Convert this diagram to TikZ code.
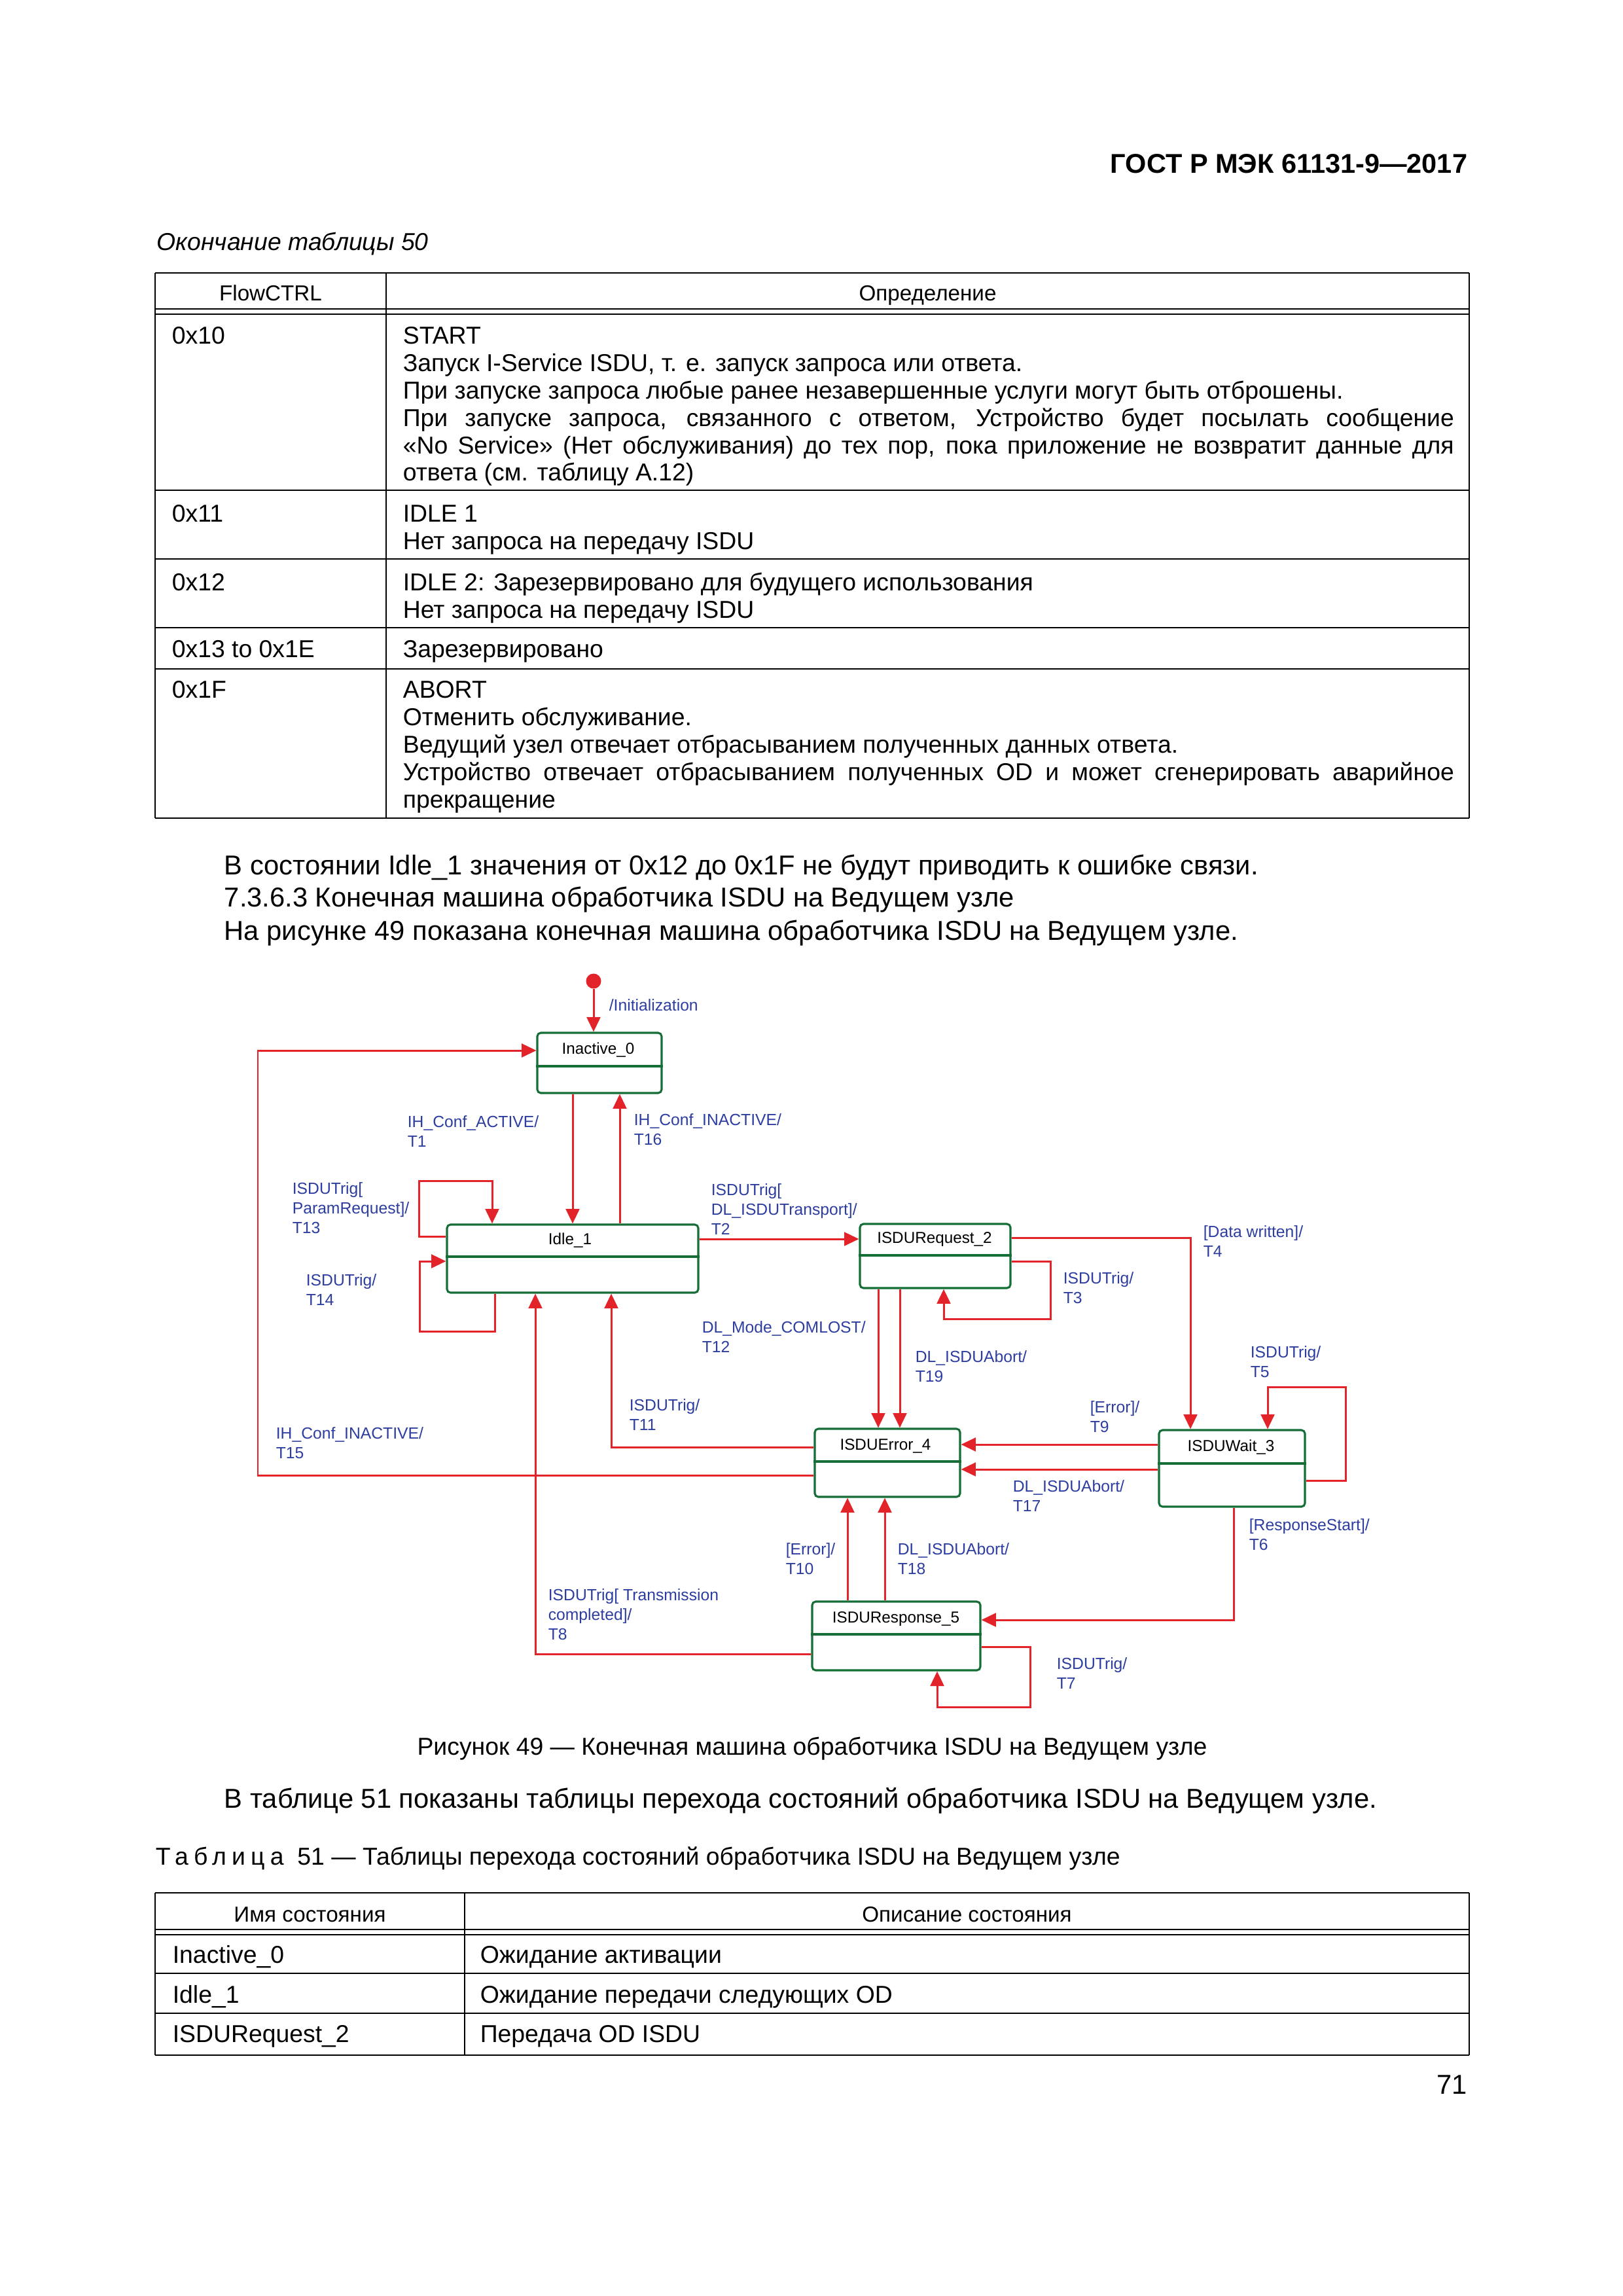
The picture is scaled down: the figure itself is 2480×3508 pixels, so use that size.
\documentclass[tikz,border=0pt]{standalone}
\usepackage{fontspec}
\setmainfont{Liberation Sans}
\newfontfamily\spacedfont[LetterSpace=22]{Liberation Sans}
\usetikzlibrary{arrows.meta}
\definecolor{arrred}{RGB}{226,35,42}
\definecolor{stgreen}{RGB}{22,110,55}
\definecolor{lblblue}{RGB}{45,62,160}
\newcommand\hdrfs{\fontsize{10pt}{12pt}\selectfont\bfseries}
\newcommand\bodyfs{\fontsize{10.05pt}{12pt}\selectfont}
\newcommand\tabfs{\fontsize{9pt}{10pt}\selectfont}
\newcommand\tabhfs{\fontsize{8pt}{9pt}\selectfont}
\newcommand\lblfs{\fontsize{5.95pt}{7.2pt}\selectfont}
\newcommand\stfs{\fontsize{5.85pt}{7pt}\selectfont}
\newcommand\jline[1]{\makebox[386.9pt][s]{#1}}
\tikzset{
  th/.style={line width=0.65pt},
  tv/.style={line width=0.4pt},
  tdbl/.style={line width=0.45pt},
  txt/.style={anchor=west,inner sep=0pt,text height=6.5pt,text depth=0pt},
  ctxt/.style={anchor=center,inner sep=0pt,text height=6.5pt,text depth=0pt},
  htxt/.style={anchor=center,inner sep=0pt,text height=5.8pt,text depth=0pt,font=\tabhfs},
  btxt/.style={txt,font=\bodyfs,text height=7.2pt},
  tabtxt/.style={txt,font=\tabfs},
  statebox/.style={draw=stgreen,line width=0.75pt,rounded corners=1.3pt,fill=white,inner sep=0pt},
  stdiv/.style={draw=stgreen,line width=0.75pt},
  sttitle/.style={anchor=center,inner sep=0pt,font=\stfs,text height=4.3pt,text depth=0pt},
  arr/.style={draw=arrred,line width=0.72pt,-{Triangle[length=5.4pt,width=5pt]}},
  lbl/.style={anchor=north west,inner sep=0pt,font=\lblfs,text=lblblue,align=left},
}
\begin{document}
\begin{tikzpicture}[x=0.2409pt,y=-0.2409pt]
\useasboundingbox (0,0) rectangle (2480,3508);
\fill[white] (0,0) rectangle (2480,3508);

% ---------- header ----------
\node[anchor=east,inner sep=0pt,font=\hdrfs,text height=7.2pt,text depth=0pt] (hdr) at (2243,250) {ГОСТ Р МЭК 61131-9—2017};
\node[txt,font=\tabfs\itshape] (cont) at (239,369) {Окончание таблицы 50};

% ---------- table 50 ----------
\draw[tv] (237,417) -- (237,1250);
\draw[tv] (590,417) -- (590,1250);
\draw[tv] (2245,417) -- (2245,1250);
\draw[th] (237,417) -- (2245,417);
\draw[tdbl] (237,472) -- (2245,472);
\draw[tdbl] (237,480) -- (2245,480);
\draw[th] (237,749) -- (2245,749);
\draw[th] (237,854) -- (2245,854);
\draw[th] (237,959) -- (2245,959);
\draw[th] (237,1022) -- (2245,1022);
\draw[th] (237,1250) -- (2245,1250);

\node[htxt] (h1) at (413.5,447) {FlowCTRL};
\node[htxt] (h2) at (1417.5,447) {Определение};

\node[tabtxt] (c10) at (262,512) {0x10};
\node[tabtxt] (d10a) at (615,512) {START};
\node[tabtxt] (d10b) at (615,554) {Запуск I-Service ISDU, т. е. запуск запроса или ответа.};
\node[tabtxt] (d10c) at (615,596) {При запуске запроса любые ранее незавершенные услуги могут быть отброшены.};
\node[tabtxt] (d10d) at (615,638) {\jline{При запуске запроса, связанного с ответом, Устройство будет посылать сообщение}};
\node[tabtxt] (d10e) at (615,680) {\jline{«No Service» (Нет обслуживания) до тех пор, пока приложение не возвратит данные для}};
\node[tabtxt] (d10f) at (615,721) {ответа (см. таблицу А.12)};

\node[tabtxt] (c11) at (262,784) {0x11};
\node[tabtxt] (d11a) at (615,784) {IDLE 1};
\node[tabtxt] (d11b) at (615,826) {Нет запроса на передачу ISDU};

\node[tabtxt] (c12) at (262,889) {0x12};
\node[tabtxt] (d12a) at (615,889) {IDLE 2: Зарезервировано для будущего использования};
\node[tabtxt] (d12b) at (615,931) {Нет запроса на передачу ISDU};

\node[tabtxt] (c13) at (262,991) {0x13 to 0x1E};
\node[tabtxt] (d13a) at (615,991) {Зарезервировано};

\node[tabtxt] (c1f) at (262,1053) {0x1F};
\node[tabtxt] (d1fa) at (615,1053) {ABORT};
\node[tabtxt] (d1fb) at (615,1095) {Отменить обслуживание.};
\node[tabtxt] (d1fc) at (615,1137) {Ведущий узел отвечает отбрасыванием полученных данных ответа.};
\node[tabtxt] (d1fd) at (615,1179) {\jline{Устройство отвечает отбрасыванием полученных OD и может сгенерировать аварийное}};
\node[tabtxt] (d1fe) at (615,1221) {прекращение};

% ---------- body text ----------
\node[btxt] (p1) at (342,1322) {В состоянии Idle\_1 значения от 0x12 до 0x1F не будут приводить к ошибке связи.};
\node[btxt] (p2) at (342,1371) {7.3.6.3 Конечная машина обработчика ISDU на Ведущем узле};
\node[btxt] (p3) at (342,1422) {На рисунке 49 показана конечная машина обработчика ISDU на Ведущем узле.};

% ---------- diagram: states ----------
\fill[arrred] (907,1499) circle (11.5);
\coordinate (init) at (907,1511);

\node[statebox,minimum width=190*0.2409pt,minimum height=92*0.2409pt] (inactive) at (916,1624) {};
\draw[stdiv] (inactive.west |- 0,1629) -- (inactive.east |- 0,1629);
\node[sttitle] (tinactive) at (914,1602) {Inactive\_0};

\node[statebox,minimum width=384*0.2409pt,minimum height=104*0.2409pt] (idle) at (875,1923) {};
\draw[stdiv] (idle.west |- 0,1920) -- (idle.east |- 0,1920);
\node[sttitle] (tidle) at (871,1893) {Idle\_1};

\node[statebox,minimum width=230*0.2409pt,minimum height=98*0.2409pt] (req) at (1429,1919) {};
\draw[stdiv] (req.west |- 0,1918) -- (req.east |- 0,1918);
\node[sttitle] (treq) at (1428,1891) {ISDURequest\_2};

\node[statebox,minimum width=222*0.2409pt,minimum height=104*0.2409pt] (err) at (1356,2235) {};
\draw[stdiv] (err.west |- 0,2233) -- (err.east |- 0,2233);
\node[sttitle] (terr) at (1353,2207) {ISDUError\_4};

\node[statebox,minimum width=223*0.2409pt,minimum height=117*0.2409pt] (wait) at (1882.5,2243.5) {};
\draw[stdiv] (wait.west |- 0,2236) -- (wait.east |- 0,2236);
\node[sttitle] (twait) at (1881,2209) {ISDUWait\_3};

\node[statebox,minimum width=257*0.2409pt,minimum height=105*0.2409pt] (resp) at (1369.5,2499.5) {};
\draw[stdiv] (resp.west |- 0,2497) -- (resp.east |- 0,2497);
\node[sttitle] (tresp) at (1369,2471) {ISDUResponse\_5};

% ---------- diagram: transitions ----------
\draw[arr] (init) -- (inactive.north -| init);
\draw[arr] (inactive.south -| 875,0) -- (idle.north -| 875,0);
\draw[arr] (idle.north -| 947,0) -- (inactive.south -| 947,0);
\draw[arr] (idle.west |- 0,1889) -- (640,1889) -- (640,1804) -- (752,1804) -- (idle.north -| 752,0);
\draw[arr] (idle.south -| 756,0) -- (756,2034) -- (641,2034) -- (641,1927) -- (idle.west |- 0,1927);
\draw[arr] (idle.east |- 0,1893) -- (req.west |- 0,1893);
\draw[arr] (req.east |- 0,1891) -- (1819,1891) -- (wait.north -| 1819,0);
\draw[arr] (req.east |- 0,1927) -- (1605,1927) -- (1605,2015) -- (1442,2015) -- (req.south -| 1442,0);
\draw[arr] (req.south -| 1342,0) -- (err.north -| 1342,0);
\draw[arr] (req.south -| 1375,0) -- (err.north -| 1375,0);
\draw[arr] (wait.east |- 0,2262) -- (2056,2262) -- (2056,2119) -- (1937,2119) -- (wait.north -| 1937,0);
\draw[arr] (wait.west |- 0,2207) -- (err.east |- 0,2207);
\draw[arr] (wait.west |- 0,2245) -- (err.east |- 0,2245);
\draw[arr] (wait.south -| 1885,0) -- (1885,2475) -- (resp.east |- 0,2475);
\draw[arr] (resp.east |- 0,2516) -- (1574,2516) -- (1574,2608) -- (1432,2608) -- (resp.south -| 1432,0);
\draw[arr] (resp.north -| 1295,0) -- (err.south -| 1295,0);
\draw[arr] (resp.north -| 1352,0) -- (err.south -| 1352,0);
\draw[arr] (err.west |- 0,2211) -- (934,2211) -- (idle.south -| 934,0);
\draw[arr] (err.west |- 0,2254) -- (394,2254) -- (394,1605) -- (inactive.west |- 0,1605);
\draw[arr] (resp.west |- 0,2527) -- (818,2527) -- (idle.south -| 818,0);

% ---------- diagram: labels ----------
\node[lbl] (linit) at (930,1526) {/Initialization};
\node[lbl] (l1) at (622,1704) {IH\_Conf\_ACTIVE/\\T1};
\node[lbl] (l16) at (968,1701) {IH\_Conf\_INACTIVE/\\T16};
\node[lbl] (l13) at (446,1806) {ISDUTrig[\\ParamRequest]/\\T13};
\node[lbl] (l14) at (467,1946) {ISDUTrig/\\T14};
\node[lbl] (l2) at (1086,1808) {ISDUTrig[\\DL\_ISDUTransport]/\\T2};
\node[lbl] (l4) at (1838,1872) {[Data written]/\\T4};
\node[lbl] (l3) at (1624,1943) {ISDUTrig/\\T3};
\node[lbl] (l12) at (1072,2018) {DL\_Mode\_COMLOST/\\T12};
\node[lbl] (l19) at (1398,2063) {DL\_ISDUAbort/\\T19};
\node[lbl] (l5) at (1910,2056) {ISDUTrig/\\T5};
\node[lbl] (l9) at (1665,2140) {[Error]/\\T9};
\node[lbl] (l11) at (961,2137) {ISDUTrig/\\T11};
\node[lbl] (l15) at (421,2180) {IH\_Conf\_INACTIVE/\\T15};
\node[lbl] (l17) at (1547,2261) {DL\_ISDUAbort/\\T17};
\node[lbl] (l6) at (1908,2320) {[ResponseStart]/\\T6};
\node[lbl] (l10) at (1200,2357) {[Error]/\\T10};
\node[lbl] (l18) at (1371,2357) {DL\_ISDUAbort/\\T18};
\node[lbl] (l8) at (837,2427) {ISDUTrig[ Transmission\\completed]/\\T8};
\node[lbl] (l7) at (1614,2532) {ISDUTrig/\\T7};

% ---------- caption and text ----------
\node[ctxt,font=\tabfs] (cap) at (1241,2668) {Рисунок 49 — Конечная машина обработчика ISDU на Ведущем узле};
\node[btxt] (p4) at (342,2748) {В таблице 51 показаны таблицы перехода состояний обработчика ISDU на Ведущем узле.};
\node[tabtxt] (t51) at (237,2836) {{\spacedfont Таблица}\ \ 51 — Таблицы перехода состояний обработчика ISDU на Ведущем узле};

% ---------- table 51 ----------
\draw[tv] (237,2892) -- (237,3140);
\draw[tv] (710,2892) -- (710,3140);
\draw[tv] (2245,2892) -- (2245,3140);
\draw[th] (237,2892) -- (2245,2892);
\draw[tdbl] (237,2948) -- (2245,2948);
\draw[tdbl] (237,2956) -- (2245,2956);
\draw[th] (237,3015) -- (2245,3015);
\draw[th] (237,3076) -- (2245,3076);
\draw[th] (237,3140) -- (2245,3140);

\node[htxt] (g1) at (473.5,2924) {Имя состояния};
\node[htxt] (g2) at (1477.5,2924) {Описание состояния};
\node[tabtxt] (s0) at (263,2986) {Inactive\_0};
\node[tabtxt] (s0d) at (733,2986) {Ожидание активации};
\node[tabtxt] (s1) at (263,3047) {Idle\_1};
\node[tabtxt] (s1d) at (733,3047) {Ожидание передачи следующих OD};
\node[tabtxt] (s2) at (263,3107) {ISDURequest\_2};
\node[tabtxt] (s2d) at (733,3107) {Передача OD ISDU};

\node[anchor=east,inner sep=0pt,font=\bodyfs,text height=7.2pt,text depth=0pt] (pg) at (2243,3185) {71};
\end{tikzpicture}
\end{document}
